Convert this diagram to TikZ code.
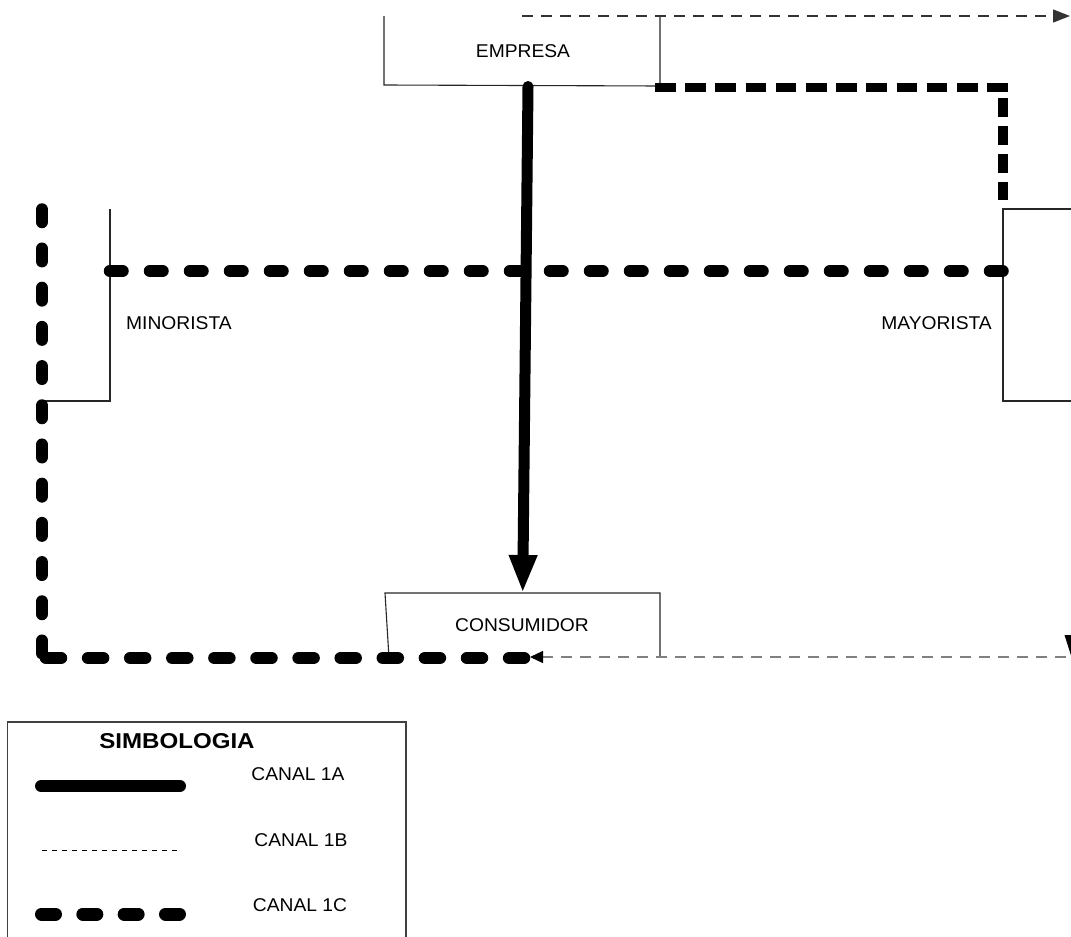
\documentclass[tikz,border=0pt]{standalone}
\usepackage{fontspec}
\setmainfont{Liberation Sans}
\usetikzlibrary{arrows.meta}
\begin{document}
\begin{tikzpicture}[x=1pt,y=-1pt,
  boxline/.style={draw=black!85,line width=1.1pt},
  lbl/.style={font=\fontsize{18.5}{20}\selectfont,inner sep=0pt,xscale=1.04},
  chA/.style={line width=11pt,line cap=round},
  chB/.style={line width=1.3pt,dash pattern=on 11pt off 8pt},
  chC/.style={line width=12.5pt,line cap=round},
  chCsq/.style={line width=9.5pt},
]
\useasboundingbox (0,0) rectangle (1071,937);

% text nodes
\node[lbl] (empresa) at (523,51) {EMPRESA};
\node[lbl] (consumidor) at (522,625) {CONSUMIDOR};
\node[lbl,anchor=west] (minorista) at (126,323) {MINORISTA};
\node[lbl,anchor=east] (mayorista) at (992,323) {MAYORISTA};

% open box outlines
\draw[boxline] (384,16) -- (384,85) -- (660,86) -- (660,16);
\draw[boxline] (389,658) -- (385,593) -- (660,593) -- (660,657);
\draw[boxline] (110,209) -- (110,401) -- (42,401);
\draw[boxline] (1080,209) -- (1003,209) -- (1003,401) -- (1080,401);

% connector coordinates
\coordinate (eBot) at (528,86.5);
\coordinate (cTop) at (522.7,593);
\coordinate (eRight) at (655,87.5);
\coordinate (corner1) at (1008.5,87.5);
\coordinate (vTop) at (1003,98);
\coordinate (mTop) at (1003,200);
\coordinate (minR) at (110,271);
\coordinate (mayL) at (1003,271);
\coordinate (lTop) at (42,209.5);
\coordinate (lCorner) at (42,658);
\coordinate (hStart) at (46,658);
\coordinate (cLeft) at (524,658);
\coordinate (topStart) at (522,16);
\coordinate (topEnd) at (1070,16);
\coordinate (botStart) at (1085,657);
\coordinate (botEnd) at (530,657);

% CANAL 1A
\draw[chA,-{Triangle[length=38pt,width=26pt]}] (eBot) -- (cTop);

% CANAL 1C (square dashes, empresa -> mayorista)
\draw[chCsq,dash pattern=on 20.5pt off 9.7pt] (eRight) -- (corner1);
\draw[chCsq,dash pattern=on 18.5pt off 9.5pt] (vTop) -- (mTop);

% CANAL 1C (round dashes)
\draw[chC,dash pattern=on 12.5pt off 27.5pt] (minR) -- (mayL);
\draw[chC,dash pattern=on 12.5pt off 26.7pt] (lTop) -- (lCorner);
\draw[chC,dash pattern=on 15pt off 27.1pt] (hStart) -- (cLeft);

% CANAL 1B
\draw[chB,draw=black!80,-{Triangle[length=17pt,width=13pt]}] (topStart) -- (topEnd);
\draw[chB,draw=black!50,-{Triangle[length=13pt,width=12pt,color=black]}] (botStart) -- (botEnd);
\fill (1064.5,635) -- (1078.5,635) -- (1071.5,657) -- cycle;

% legend
\draw[draw=black!75,line width=1.2pt] (7.5,950) -- (7.5,722) -- (406,722) -- (406,950);
\node[font=\bfseries\fontsize{21.5}{23}\selectfont,inner sep=0pt,xscale=1.12] (simb) at (177,741.5) {SIMBOLOGIA};
\node[lbl] (c1a) at (298,774.5) {CANAL 1A};
\node[lbl] (c1b) at (301,840.5) {CANAL 1B};
\node[lbl] (c1c) at (300,905) {CANAL 1C};
\coordinate (la1) at (41,786);
\coordinate (la2) at (180,786);
\coordinate (lb1) at (42,850);
\coordinate (lb2) at (177,850);
\coordinate (lc1) at (41.5,914);
\coordinate (lc2) at (181.5,914);
\draw[line width=12pt,line cap=round] (la1) -- (la2);
\draw[line width=1pt,dash pattern=on 5pt off 5pt] (lb1) -- (lb2);
\draw[line width=13pt,line cap=round,dash pattern=on 14pt off 27.33pt] (lc1) -- (lc2);
\end{tikzpicture}
\end{document}
